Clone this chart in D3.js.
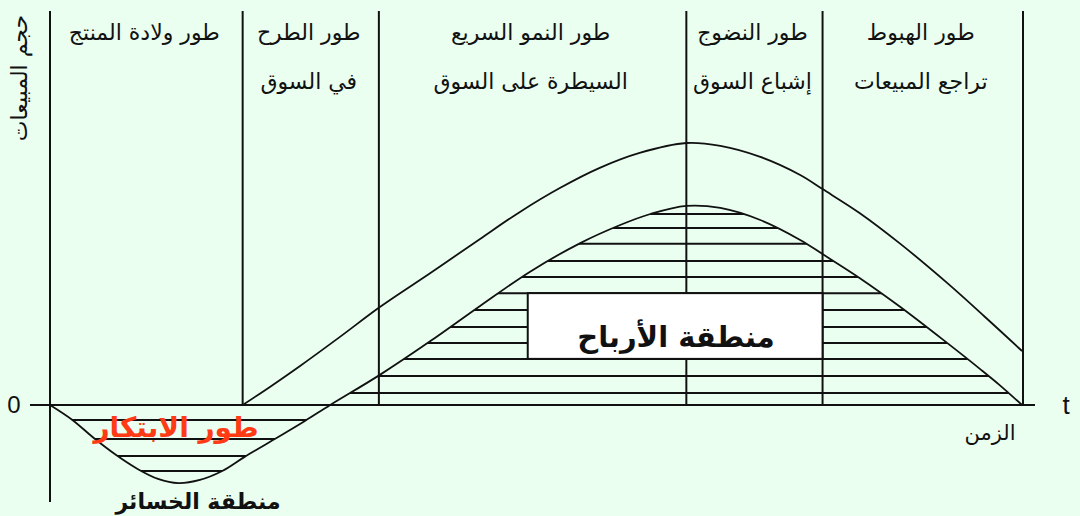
<!DOCTYPE html>
<html><head><meta charset="utf-8">
<script src="https://cdn.jsdelivr.net/npm/d3@7"></script>
<style>html,body{margin:0;padding:0;background:#eafff0;}svg{display:block;}</style>
</head><body>
<svg id="chart" width="1080" height="516"></svg>
<script>
// ---- data ----
const stageBounds = [0, 19.8, 33.8, 65.4, 79.4, 100];          // time units
const stageLine1 = ["طور ولادة المنتج", "طور الطرح", "طور النمو السريع", "طور النضوج", "طور الهبوط"];
const stageLine2 = ["", "في السوق", "السيطرة على السوق", "إشباع السوق", "تراجع المبيعات"];
const salesT = [19.8, 22.6, 25.7, 29.8, 33.9, 39.1, 44.2, 48.3, 52.4, 56.5, 60.6, 65.4, 68.9, 73.0, 77.1, 79.4, 83.2, 87.4, 92.2, 96.1, 99.9];
const salesV = [0, 6.9, 14.9, 26.0, 37.4, 50.4, 63.4, 73.7, 82.8, 90.5, 96.2, 100, 98.9, 94.7, 87.8, 82.4, 73.3, 61.5, 46.6, 33.6, 20.6];
const profitT = [0, 2.3, 4.5, 6.8, 9.0, 11.1, 13.2, 15.4, 17.7, 20.0, 23.1, 26.2, 28.8, 33.9, 39.1, 44.2, 49.3, 54.5, 58.6, 61.7, 65.4, 68.9, 73.0, 77.1, 79.4, 83.2, 87.4, 92.2, 95.6, 97.6, 99.9];
const profitV = [0, -5.7, -12.6, -19.1, -24.4, -28.2, -29.8, -28.6, -25.2, -19.8, -13.0, -6.1, 0, 11.5, 24.4, 37.8, 50.8, 61.8, 68.7, 72.9, 76.0, 75.2, 70.6, 63.0, 57.6, 48.5, 37.4, 23.7, 13.7, 7.6, 0];
const hatchLevels = [-25.2, -19.5, -13.0, -5.7, 4.6, 11.1, 17.6, 23.7, 29.8, 36.3, 42.7, 48.9, 55.0, 61.5, 67.6, 72.9];
const profitBox = {t0: 49.1, t1: 79.4, v0: 17.6, v1: 42.7};
const labels = {y: "حجم المبيعات", x: "الزمن", zero: "0", t: "t",
  intro: "طور الابتكار", loss: "منطقة الخسائر", profit: "منطقة الأرباح"};

// ---- scales ----
const x = d3.scaleLinear().domain([0, 100]).range([50, 1023]);
const y = d3.scaleLinear().domain([0, 100]).range([405, 143]);
const svg = d3.select("#chart");
const AR = "'DejaVu Sans', 'Noto Sans', sans-serif";

svg.append("rect").attr("width", 1080).attr("height", 516).attr("fill", "#eafff0");

const sales = salesT.map((t, i) => [t, salesV[i]]);
const profit = profitT.map((t, i) => [t, profitV[i]]);
const crv = d3.curveCatmullRom.alpha(0.5);
const line = d3.line().x(d => x(d[0])).y(d => y(d[1])).curve(crv);
const area = d3.area().x(d => x(d[0])).y0(y(0)).y1(d => y(d[1])).curve(crv);

// clip for hatch
svg.append("clipPath").attr("id", "pclip").append("path").attr("d", area(profit));
svg.append("g").attr("clip-path", "url(#pclip)")
  .selectAll("line").data(hatchLevels).join("line")
  .attr("x1", x(0)).attr("x2", x(100))
  .attr("y1", d => y(d)).attr("y2", d => y(d))
  .attr("stroke", "#111").attr("stroke-width", 2);

// vertical stage lines
svg.selectAll("line.stage").data(stageBounds).join("line").attr("class", "stage")
  .attr("x1", d => x(d)).attr("x2", d => x(d))
  .attr("y1", 11).attr("y2", (d, i) => i === 0 ? 502 : y(0))
  .attr("stroke", "#111").attr("stroke-width", 2);

// axis line
svg.append("line").attr("x1", 30).attr("x2", 1035).attr("y1", y(0)).attr("y2", y(0))
  .attr("stroke", "#111").attr("stroke-width", 2);

// profit box
svg.append("rect").attr("x", x(profitBox.t0)).attr("y", y(profitBox.v1))
  .attr("width", x(profitBox.t1) - x(profitBox.t0)).attr("height", y(profitBox.v0) - y(profitBox.v1))
  .attr("fill", "#fff").attr("stroke", "#111").attr("stroke-width", 2);

// curves
svg.append("path").attr("d", line(sales)).attr("fill", "none").attr("stroke", "#111").attr("stroke-width", 1.8);
svg.append("path").attr("d", line(profit)).attr("fill", "none").attr("stroke", "#111").attr("stroke-width", 1.8);

// stage labels
const mids = stageLine1.map((s, i) => (stageBounds[i] + stageBounds[i + 1]) / 2);
svg.selectAll("text.s1").data(stageLine1).join("text").attr("class", "s1")
  .attr("x", (d, i) => x(mids[i]) - 2).attr("y", 40).attr("text-anchor", "middle")
  .attr("font-family", AR).attr("font-size", 22).attr("fill", "#111").text(d => d);
svg.selectAll("text.s2").data(stageLine2).join("text").attr("class", "s2")
  .attr("x", (d, i) => x(mids[i]) - 2).attr("y", 89).attr("text-anchor", "middle")
  .attr("font-family", AR).attr("font-size", 22).attr("fill", "#111").text(d => d);

// axis labels
svg.append("text").attr("transform", "translate(27,78) rotate(-90)").attr("text-anchor", "middle")
  .attr("font-family", AR).attr("font-size", 22).attr("fill", "#111").text(labels.y);
svg.append("text").attr("x", 990).attr("y", 440).attr("text-anchor", "middle")
  .attr("font-family", AR).attr("font-size", 21).attr("fill", "#111").text(labels.x);
svg.append("text").attr("x", 14).attr("y", 413).attr("text-anchor", "middle")
  .attr("font-family", "'Liberation Sans', Arial, sans-serif").attr("font-size", 24).attr("fill", "#111").text(labels.zero);
svg.append("text").attr("x", 1066).attr("y", 414).attr("text-anchor", "middle")
  .attr("font-family", "'Liberation Sans', Arial, sans-serif").attr("font-size", 26).attr("fill", "#111").text(labels.t);

// region labels
svg.append("text").attr("x", 176).attr("y", 437).attr("text-anchor", "middle")
  .attr("font-family", AR).attr("font-weight", "bold").attr("font-size", 28).attr("fill", "#ff3a14").text(labels.intro);
svg.append("text").attr("x", 198).attr("y", 509).attr("text-anchor", "middle")
  .attr("font-family", AR).attr("font-weight", "bold").attr("font-size", 22).attr("fill", "#111").text(labels.loss);
svg.append("text").attr("x", 676).attr("y", 347).attr("text-anchor", "middle")
  .attr("font-family", AR).attr("font-weight", "bold").attr("font-size", 29).attr("fill", "#111").text(labels.profit);
</script>
</body></html>
